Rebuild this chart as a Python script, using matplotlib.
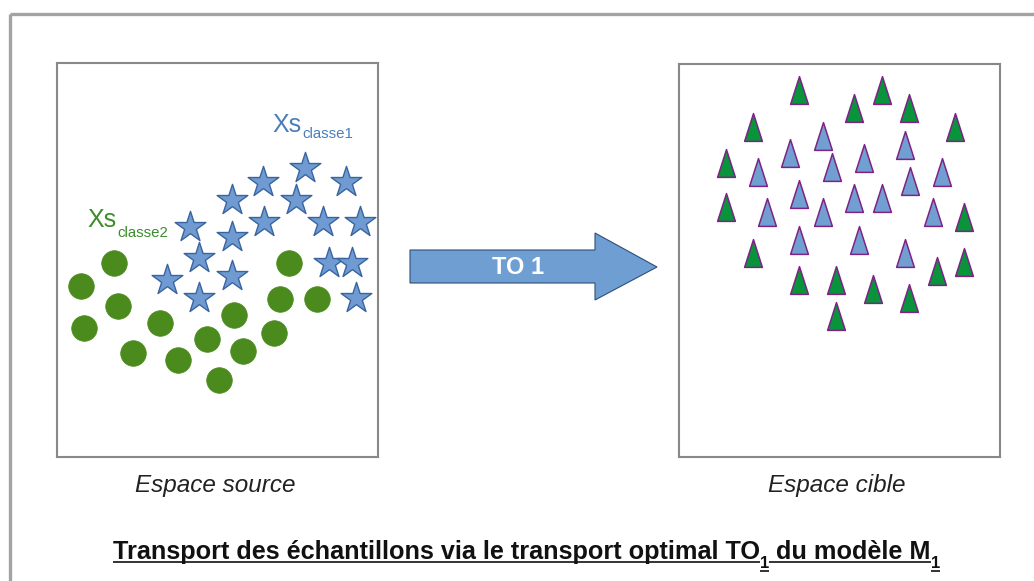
import matplotlib
matplotlib.use("Agg")
import matplotlib.pyplot as plt
from matplotlib.patches import Polygon
from matplotlib.path import Path

W, H = 1034, 581
DPI = 100

# ---- data (pixel positions) ----
star_x = [305, 263, 346, 232, 296, 190, 264, 232, 323, 360, 199, 232, 167, 199, 329, 352, 356]
star_y = [168, 182, 182, 200, 200, 227, 222, 237, 222, 222, 258, 276, 280, 298, 263, 263, 298]

circle_x = [114, 81, 118, 84, 160, 133, 178, 207, 234, 243, 219, 274, 280, 289, 317]
circle_y = [263, 286, 306, 328, 323, 353, 360, 339, 315, 351, 380, 333, 299, 263, 299]

tri_green_x = [799, 882, 854, 909, 753, 955, 726, 726, 964, 753, 964, 937, 799, 836, 873, 909, 836]
tri_green_y = [90, 90, 108, 108, 127, 127, 163, 207, 217, 253, 262, 271, 280, 280, 289, 298, 316]

tri_blue_x = [823, 790, 905, 758, 832, 864, 942, 910, 799, 854, 882, 767, 823, 933, 799, 859, 905]
tri_blue_y = [136, 153, 145, 172, 167, 158, 172, 181, 194, 198, 198, 212, 212, 212, 240, 240, 253]

label_source = "Espace source"
label_target = "Espace cible"
arrow_label = "TO 1"
title_parts = [("Transport des échantillons via le transport optimal TO", False),
               ("1", True),
               (" du modèle M", False),
               ("1", True)]

fig = plt.figure(figsize=(W / DPI, H / DPI), dpi=DPI)
fig.patch.set_facecolor("white")

# background axes in pixel coordinates
bg = fig.add_axes([0, 0, 1, 1])
bg.set_xlim(0, W)
bg.set_ylim(H, 0)
bg.axis("off")

# outer frame (top and left edges visible)
bg.plot([10, W], [14, 14], color="#a3a3a3", lw=2.4, solid_capstyle="butt")
bg.plot([10, 10], [14, H], color="#a3a3a3", lw=2.4, solid_capstyle="butt")


def panel(x0, y0, x1, y1):
    ax = fig.add_axes([x0 / W, 1 - y1 / H, (x1 - x0) / W, (y1 - y0) / H])
    ax.set_xlim(x0, x1)
    ax.set_ylim(y1, y0)
    ax.set_xticks([])
    ax.set_yticks([])
    for s in ax.spines.values():
        s.set_color("#888888")
        s.set_linewidth(1.5)
    return ax


axL = panel(57, 63, 378, 457)
axR = panel(679, 64, 1000, 457)

axL.scatter(circle_x, circle_y, s=340, color="#4b8b1d", edgecolors="#4b8b1d",
            linewidths=0.5, zorder=3, clip_on=False)
axL.scatter(star_x, star_y, s=540, marker="*", color="#6f9bd2", edgecolors="#3a64a0",
            linewidths=1.0, zorder=4, clip_on=False)

tri = Path([(-0.32, -0.5), (0.32, -0.5), (0.0, 0.5), (-0.32, -0.5)],
           [Path.MOVETO, Path.LINETO, Path.LINETO, Path.CLOSEPOLY])
axR.scatter(tri_green_x, tri_green_y, s=400, marker=tri, color="#09933a",
            edgecolors="#7d2386", linewidths=1.1, zorder=3, clip_on=False)
axR.scatter(tri_blue_x, tri_blue_y, s=400, marker=tri, color="#729fd2",
            edgecolors="#7d2386", linewidths=1.1, zorder=3, clip_on=False)

# class labels
axL.text(272, 132, "Xs", fontsize=18, color="#4a7ebb", family="Liberation Sans", va="baseline")
axL.text(302, 138, "classe1", fontsize=10.8, color="#4a7ebb", family="Liberation Sans", va="baseline")
axL.text(87, 227, "Xs", fontsize=18, color="#3b8d2b", family="Liberation Sans", va="baseline")
axL.text(117, 237, "classe2", fontsize=10.8, color="#3b8d2b", family="Liberation Sans", va="baseline")

# arrow
arrow_pts = [(410, 250), (595, 250), (595, 233), (657, 267), (595, 300), (595, 283), (410, 283)]
bg.add_patch(Polygon(arrow_pts, closed=True, facecolor="#6e9ed2", edgecolor="#2f4f78", lw=0.8, zorder=2))
bg.text(518, 267, arrow_label, color="white", fontsize=17, fontweight="bold",
        family="Liberation Sans", ha="center", va="center", zorder=3)

# captions
bg.text(215, 492, label_source, fontsize=17.5, style="italic", color="#222222",
        family="Liberation Sans", ha="center", va="baseline")
bg.text(837, 492, label_target, fontsize=17.5, style="italic", color="#222222",
        family="Liberation Sans", ha="center", va="baseline")

# title with subscripts and underline
fig.canvas.draw()
r = fig.canvas.get_renderer()
inv = bg.transData.inverted()
x = 113
base = 559
main_fs, sub_fs = 18.2, 12
for txt, sub in title_parts:
    y = base + (9 if sub else 0)
    t = bg.text(x, y, txt, fontsize=sub_fs if sub else main_fs, fontweight="bold",
                family="Liberation Sans", color="#111111",
                va="baseline", ha="left")
    bb = t.get_window_extent(renderer=r)
    (xa, _), (xb, _) = inv.transform([(bb.x0, 0), (bb.x1, 0)])
    bg.plot([xa, xb], [y + 2.5, y + 2.5], color="#111111", lw=1.2, solid_capstyle="butt")
    x = xb

fig.savefig("out.png", dpi=DPI, facecolor="white")
